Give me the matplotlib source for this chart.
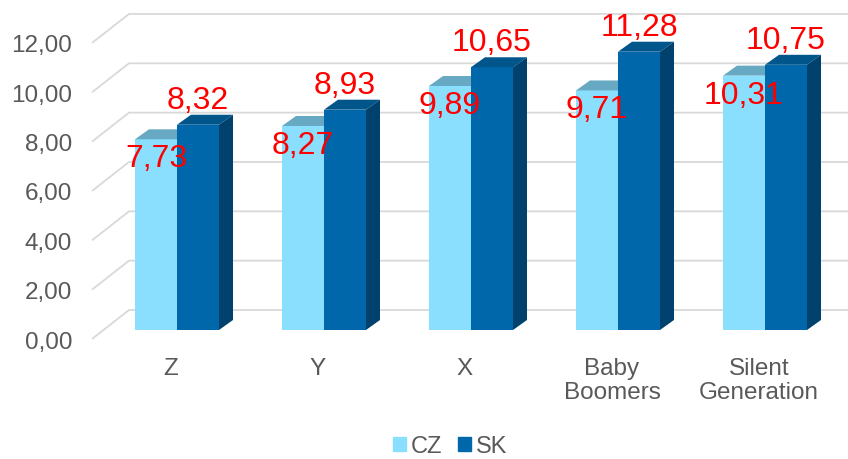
import matplotlib
matplotlib.use("Agg")
import matplotlib.pyplot as plt
from matplotlib.patches import Polygon, Patch

plt.rcParams["font.family"] = ["Liberation Sans", "DejaVu Sans"]

categories = ["Z", "Y", "X", "Baby\nBoomers", "Silent\nGeneration"]
series = ["CZ", "SK"]
cz = [7.73, 8.27, 9.89, 9.71, 10.31]
sk = [8.32, 8.93, 10.65, 11.28, 10.75]
yticks = [0, 2, 4, 6, 8, 10, 12]

C = {"CZ": ("#8ADFFF", "#67A8C2", "#5FB3D6"),
     "SK": ("#0067AA", "#00558B", "#00426D")}
GRAY = "#595959"
GRID = "#D9D9D9"

fig = plt.figure(figsize=(8.48, 4.6), dpi=100)
ax = fig.add_axes([0, 0, 1, 1])
ax.axis("off")

# one category step = 147 px, one value unit = 24.67 px
PX = 1 / 147
PY = 1 / 24.67
ax.set_xlim(-177 * PX, (848 - 177) * PX)
ax.set_ylim((331 - 460) * PY, 331 * PY)

W = 42 * PX          # bar width
DX, DY = 14 * PX, 10 * PY   # bar depth

# back wall gridlines + tick labels
for t in yticks:
    fy = t - 9 * PY
    by = t + 20 * PY
    ax.plot([-85 * PX, -48 * PX, 672 * PX], [fy, by, by], color=GRID, lw=1.3, zorder=1,
            solid_capstyle="butt")
    ax.text(-105 * PX, fy - 8.5 * PY, f"{t:.2f}".replace(".", ","), ha="right", va="baseline",
            fontsize=17.5, color=GRAY)


def bar3d(x0, v, key, z):
    front, top, side = C[key]
    ax.bar(x0, v, width=W, align="edge", color=front, zorder=z, lw=0)
    ax.add_patch(Polygon([(x0, v), (x0 + W, v), (x0 + W + DX, v + DY), (x0 + DX, v + DY)],
                         closed=True, fc=top, lw=0, zorder=z))
    ax.add_patch(Polygon([(x0 + W, 0), (x0 + W + DX, DY), (x0 + W + DX, v + DY), (x0 + W, v)],
                         closed=True, fc=side, lw=0, zorder=z))


for i, (a, b) in enumerate(zip(cz, sk)):
    bar3d(i - W, a, "CZ", 3 + 2 * i)
    bar3d(i, b, "SK", 4 + 2 * i)
    ax.text(i - W / 2, a - 27 * PY, f"{a:.2f}".replace(".", ","), ha="center", va="baseline",
            fontsize=23, color="red", zorder=20)
    ax.text(i + W / 2, b + DY + 7 * PY, f"{b:.2f}".replace(".", ","), ha="center",
            va="baseline", fontsize=23, color="red", zorder=20)
    ax.text(i - 6 * PX, -27 * PY, categories[i], ha="center", va="top", fontsize=17.5,
            color=GRAY, linespacing=1.1)

handles = [Patch(color=C[s][0]) for s in series]
fig.legend(handles, series, loc="center", bbox_to_anchor=(450 / 848, 1 - 447 / 460), ncol=2,
           frameon=False, fontsize=17, handlelength=0.55, handleheight=0.55,
           handletextpad=0.2, columnspacing=0.7, labelcolor=GRAY, borderpad=0)

fig.savefig("out.png", dpi=100)
